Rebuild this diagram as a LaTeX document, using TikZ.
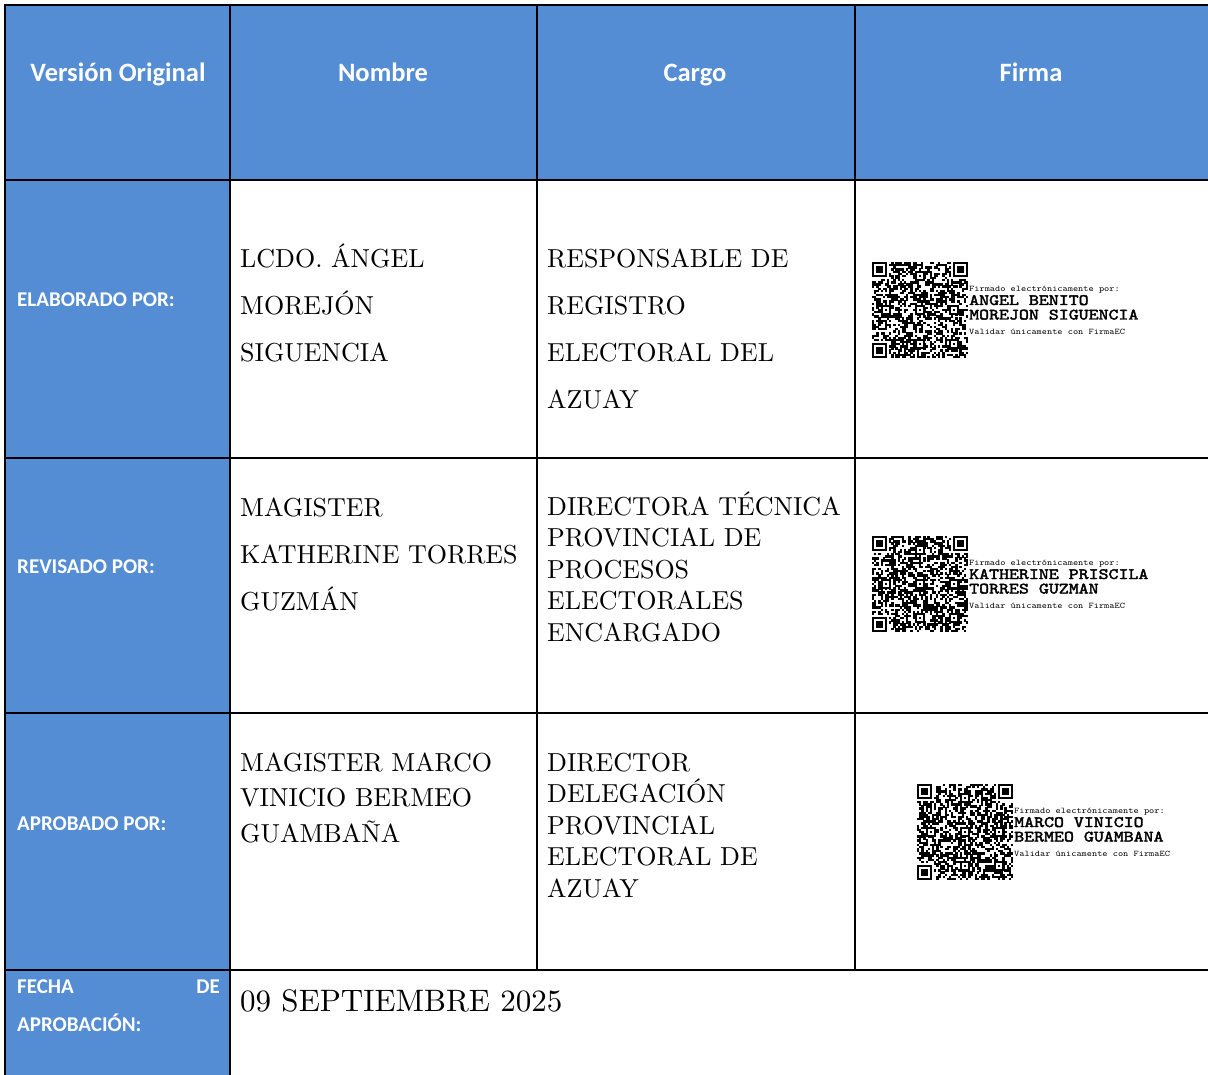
\documentclass[tikz,border=0pt]{standalone}
\usepackage{fontspec}
\newfontfamily\headfont{Carlito}
\newfontfamily\firmafont{lmmono10-regular.otf}[FakeStretch=1.15]
\newfontfamily\firmabold{lmmono10-regular.otf}[FakeBold=2.5, FakeStretch=1.2]
\newfontfamily\bodyfont{lmroman10-regular.otf}
\definecolor{cellblue}{RGB}{84,141,212}

% modulo del codigo QR
\newcommand{\qm}{2.133}
\newcommand{\qrfinder}[2]{%
  \fill[white] ({#1-\qm},{#2-\qm}) rectangle ++({9*\qm},{9*\qm});
  \fill[black] (#1,#2) rectangle ++({7*\qm},{7*\qm});
  \fill[white] ({#1+\qm},{#2+\qm}) rectangle ++({5*\qm},{5*\qm});
  \fill[black] ({#1+2*\qm},{#2+2*\qm}) rectangle ++({3*\qm},{3*\qm});
}
\newcommand{\qrcode}[3]{%
  \pgfmathsetseed{#3}
  \foreach \i in {0,...,44}{
    \foreach \j in {0,...,44}{
      \pgfmathrandominteger{\qb}{0}{1}
      \ifnum\qb=1 \fill ({#1+\i*\qm},{#2+\j*\qm}) rectangle ++({\qm+0.2},{\qm+0.2}); \fi
    }}
  \foreach \a/\b in {4/20,20/4,20/20,20/36,36/20,36/36}{
    \fill[black] ({#1+\a*\qm},{#2+\b*\qm}) rectangle ++({5*\qm},{5*\qm});
    \fill[white] ({#1+(\a+1)*\qm},{#2+(\b+1)*\qm}) rectangle ++({3*\qm},{3*\qm});
    \fill[black] ({#1+(\a+2)*\qm},{#2+(\b+2)*\qm}) rectangle ++(\qm,\qm);
  }
  \qrfinder{#1}{#2}
  \qrfinder{#1+38*\qm}{#2}
  \qrfinder{#1}{#2+38*\qm}
}
\newcommand{\firma}[6]{%
  \qrcode{#1}{#2}{#3}
  \node[firmasmall] (#4-a) at ({#1+97},{#2+29.5}) {Firmado electrónicamente por:};
  \node[firmabig] (#4-b) at ({#1+97},{#2+43}) {#5};
  \node[firmabig] (#4-c) at ({#1+97},{#2+57.5}) {#6};
  \node[firmasmall] (#4-d) at ({#1+97},{#2+72.5}) {Validar únicamente con FirmaEC};
}

\begin{document}
\begin{tikzpicture}[x=1pt,y=-1pt]

\tikzset{rule/.style = {line width=2.2pt, line cap=rect}}
\tikzset{head/.style = {anchor=base, inner sep=0, text=white, font=\headfont\bfseries\fontsize{26.5}{30}\selectfont}}
\tikzset{rowlabel/.style = {anchor=base west, inner sep=0, text=white, font=\headfont\bfseries\fontsize{21}{24}\selectfont}}
\tikzset{body/.style = {anchor=base west, inner sep=0, font=\bodyfont\fontsize{26}{30}\selectfont}}
\tikzset{firmasmall/.style = {anchor=base west, inner sep=0, text height=5pt, text depth=1.5pt, font=\firmafont\fontsize{8.6}{10}\selectfont}}
\tikzset{firmabig/.style = {anchor=base west, inner sep=0, text height=9.7pt, text depth=0pt, font=\firmabold\fontsize{15.8}{17}\selectfont}}
\useasboundingbox (0,0) rectangle (1208,1075);
%fondos
\fill[cellblue] (5,5) rectangle (1208,180);
\fill[cellblue] (5,180) rectangle (230,1075);
%lineas
\foreach \y in {5,180,458,713,970} \draw[rule] (5,\y) -- (1208,\y);
\foreach \x in {5,230} \draw[rule] (\x,5) -- (\x,1075);
\foreach \x in {537,855} \draw[rule] (\x,5) -- (\x,970);
%encabezado
\node[head] (hver) at (118,82) {Versión Original};
\node[head] (hnom) at (383,82) {Nombre};
\node[head] (hcar) at (695,82) {Cargo};
\node[head] (hfir) at (1031,82) {Firma};
%filas
\node[rowlabel] (elab) at (17,307) {ELABORADO POR:};
\node[rowlabel] (rev) at (17,573) {REVISADO POR:};
\node[rowlabel] (apro) at (17,830) {APROBADO POR:};
\node[rowlabel] (fecha) at (17,993) {FECHA};
\node[rowlabel, anchor=base east] (de) at (220,993) {DE};
\node[rowlabel] (aprob) at (17,1031) {APROBACIÓN:};
%nombres
\foreach \t [count=\k] in {LCDO. ÁNGEL, MOREJÓN, SIGUENCIA}
  \node[body] (nom1-\k) at (240,{268+47*(\k-1)}) {\t};
\foreach \t [count=\k] in {MAGISTER, KATHERINE TORRES, GUZMÁN}
  \node[body] (nom2-\k) at (240,{516+47*(\k-1)}) {\t};
\foreach \t [count=\k] in {MAGISTER MARCO, VINICIO BERMEO, GUAMBAÑA}
  \node[body] (nom3-\k) at (240,{771+35.5*(\k-1)}) {\t};
%cargos
\foreach \t [count=\k] in {RESPONSABLE DE, REGISTRO, ELECTORAL DEL, AZUAY}
  \node[body] (car1-\k) at (547,{268+47*(\k-1)}) {\t};
\foreach \t [count=\k] in {DIRECTORA TÉCNICA, PROVINCIAL DE, PROCESOS, ELECTORALES, ENCARGADO}
  \node[body] (car2-\k) at (547,{515+31.5*(\k-1)}) {\t};
\foreach \t [count=\k] in {DIRECTOR, DELEGACIÓN, PROVINCIAL, ELECTORAL DE, AZUAY}
  \node[body] (car3-\k) at (547,{771+31.5*(\k-1)}) {\t};
%fecha
\node[body, font=\bodyfont\fontsize{31}{36}\selectfont] (dia) at (240,1011) {09 SEPTIEMBRE 2025};
%firmas
\firma{872}{262}{11}{fir1}{ANGEL BENITO}{MOREJON SIGUENCIA}
\firma{872}{536}{23}{fir2}{KATHERINE PRISCILA}{TORRES GUZMAN}
\firma{917}{784}{37}{fir3}{MARCO VINICIO}{BERMEO GUAMBANA}

\end{tikzpicture}
\end{document}
